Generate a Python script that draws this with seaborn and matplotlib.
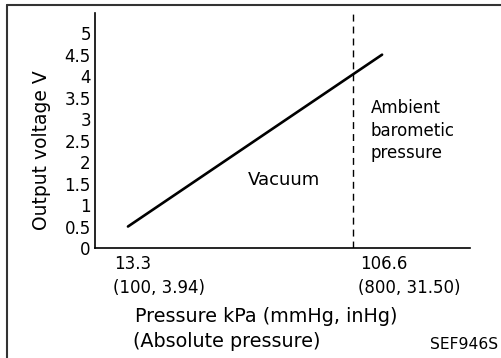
import matplotlib
matplotlib.use("Agg")
import matplotlib.pyplot as plt
import matplotlib.transforms as mtransforms
import seaborn as sns
import pandas as pd

# Sensor characteristic: output voltage vs. absolute pressure
pressure_kpa = [13.3, 108.1]
output_v = [0.5, 4.5]
ambient_kpa = 97.3

y_ticks = [0, 0.5, 1, 1.5, 2, 2.5, 3, 3.5, 4, 4.5, 5]
y_tick_labels = ["0", "0.5", "1", "1.5", "2", "2.5", "3", "3.5", "4", "4.5", "5"]
x_ticks = [13.3, 106.6]
x_tick_labels = ["13.3", "106.6"]
x_tick_sublabels = ["(100, 3.94)", "(800, 31.50)"]

sns.set_theme(style="white")
plt.rcParams["font.family"] = ["DejaVu Sans"]
plt.rcParams["text.color"] = "black"
plt.rcParams["axes.labelcolor"] = "black"

W, H = 502, 358
DPI = 100
fig = plt.figure(figsize=(W / DPI, H / DPI), dpi=DPI)
ax = fig.add_axes([95 / W, (H - 248) / H, (470 - 95) / W, (248 - 13) / H])


def fx(px):
    return px / W


def fy(py):
    return 1 - py / H


df = pd.DataFrame({"p": pressure_kpa, "v": output_v})
sns.lineplot(data=df, x="p", y="v", ax=ax, color="black", linewidth=1.9)
ax.axvline(ambient_kpa, color="black", linestyle=(0, (5, 3.6)), linewidth=1)

ax.set_xlim(1.0, 140.9)
ax.set_ylim(0, 5.47)
ax.set_yticks(y_ticks)
ax.set_yticklabels(y_tick_labels)
ax.set_xticks(x_ticks)
ax.set_xticklabels(x_tick_labels, ha="left")
ax.tick_params(axis="both", direction="in", length=5, width=1, colors="black",
               labelsize=12)
ax.tick_params(axis="y", pad=3)
ax.tick_params(axis="x", pad=5)

# shift the x tick labels so they start a little left of their ticks
x_offsets_px = [-14, -18]
for lab, dx in zip(ax.get_xticklabels(), x_offsets_px):
    lab.set_transform(lab.get_transform()
                      + mtransforms.ScaledTranslation(dx / DPI, 0, fig.dpi_scale_trans))

# second line under each x tick: (mmHg, inHg)
sub_offsets_px = [-15, -20]
for xv, txt, dx in zip(x_ticks, x_tick_sublabels, sub_offsets_px):
    ax.annotate(txt, xy=(xv, 0), xycoords=("data", "axes fraction"),
                xytext=(dx, -(293 - 248)), textcoords="offset pixels",
                ha="left", va="baseline", fontsize=12, color="black")

for s in ["top", "right"]:
    ax.spines[s].set_visible(False)
for s in ["left", "bottom"]:
    ax.spines[s].set_color("black")
    ax.spines[s].set_linewidth(1.2)

ax.set_xlabel("")
ax.set_ylabel("")
fig.text(fx(42), fy(150), "Output voltage V", fontsize=13.5, rotation=90,
         ha="center", va="center")

fig.text(fx(135), fy(322), "Pressure kPa (mmHg, inHg)", fontsize=13.8, va="baseline", ha="left")
fig.text(fx(133), fy(347), "(Absolute pressure)", fontsize=13.8, va="baseline", ha="left")
fig.text(fx(498), fy(349), "SEF946S", fontsize=11.2, va="baseline", ha="right")

fig.text(fx(248), fy(180), "Vacuum", fontsize=13, va="center", ha="left")
for txt, yb in zip(["Ambient", "barometic", "pressure"], [113, 136, 158]):
    fig.text(fx(371), fy(yb), txt, fontsize=12, va="baseline", ha="left")

# Frame on the left and top edges
fig.add_artist(plt.Line2D([fx(7.5), fx(7.5)], [0, fy(4.5)], color="#333333",
                          linewidth=1.5, transform=fig.transFigure))
fig.add_artist(plt.Line2D([fx(7.5), 1], [fy(4.5), fy(4.5)], color="#333333",
                          linewidth=1.5, transform=fig.transFigure))

fig.savefig("out.png", dpi=DPI)
